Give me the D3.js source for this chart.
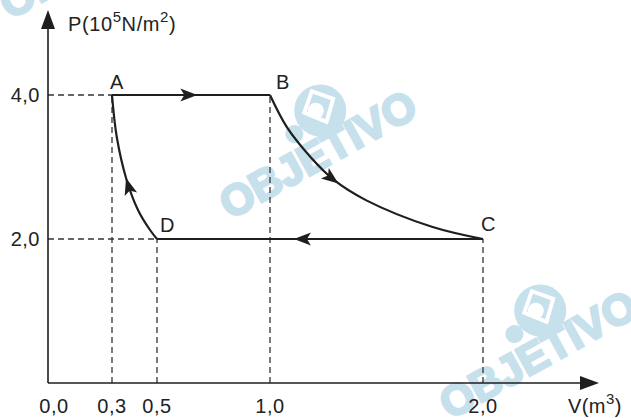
<!DOCTYPE html>
<html>
<head>
<meta charset="utf-8">
<script src="https://cdn.jsdelivr.net/npm/d3@7"></script>
<style>
  body { margin: 0; background: #fff; }
  svg { display: block; }
  text { font-family: "Liberation Sans", Arial, sans-serif; fill: #222; }
</style>
</head>
<body>
<svg id="chart"></svg>
<script>
// states of the cycle (V in m3, P in 10^5 N/m2)
const states = [
  { name: "A", v: 0.3, p: 4.0 },
  { name: "B", v: 1.0, p: 4.0 },
  { name: "C", v: 2.0, p: 2.0 },
  { name: "D", v: 0.5, p: 2.0 }
];
// points read along the curved parts
const curveBC = [[1.0, 4.0], [1.08, 3.55], [1.19, 3.14], [1.30, 2.82], [1.45, 2.54], [1.76, 2.17], [2.0, 2.0]];
const curveDA = [[0.5, 2.0], [0.469, 2.125], [0.416, 2.40], [0.365, 2.82], [0.321, 3.42], [0.3, 4.0]];
const xTicks = [0, 0.3, 0.5, 1.0, 2.0];
const xTickLabels = ["0,0", "0,3", "0,5", "1,0", "2,0"];
const yTicks = [2.0, 4.0];
const yTickLabels = ["2,0", "4,0"];

const width = 631, height = 418;
const svg = d3.select("#chart").attr("width", width).attr("height", height);

// the drawing is not to scale on V, so use a piecewise scale
const x = d3.scaleLinear().domain(xTicks).range([48, 112, 157, 270, 483]);
const y = d3.scaleLinear().domain([0, 4]).range([383, 95]);

const ink = "#1e1e1e";
const wm = "#c6e0ec";
const fs = 20;

// watermark copies
[[-220, -200], [0, 0], [220, 200]].forEach(function(o){
  const g = svg.append("g")
    .attr("transform", "translate(" + (230 + o[0]) + "," + (220 + o[1]) + ") rotate(-29)");
  g.append("text")
    .text("OBJETIVO")
    .attr("font-size", 43)
    .attr("font-weight", "bold")
    .style("fill", wm)
    .attr("stroke", wm)
    .attr("stroke-width", 2.5);
  const logo = g.append("g").attr("transform", "translate(132,-52)");
  logo.append("circle").attr("r", 26).attr("fill", wm);
  logo.append("path")
    .attr("d", "M-15,-6 L2,-21 L17,-4 L0,13 Z")
    .attr("fill", "none").attr("stroke", "#fff").attr("stroke-width", 4);
  logo.append("circle").attr("cx", -4).attr("cy", -2).attr("r", 8).attr("fill", "#fff");
  logo.append("circle").attr("cx", -34).attr("cy", 8).attr("r", 9).attr("fill", wm);
});

// dashed guides
const byName = {};
states.forEach(function(s){ byName[s.name] = s; });
const guides = svg.append("g")
  .attr("stroke", "#333").attr("stroke-width", 1.3).attr("stroke-dasharray", "6,4").attr("fill", "none");
states.forEach(function(s){
  guides.append("line").attr("x1", x(s.v)).attr("x2", x(s.v)).attr("y1", y(0)).attr("y2", y(s.p));
});
[byName.A, byName.D].forEach(function(s){
  guides.append("line").attr("x1", x(0)).attr("x2", x(s.v)).attr("y1", y(s.p)).attr("y2", y(s.p));
});

// axes
svg.append("line").attr("x1", x(0)).attr("x2", 585).attr("y1", y(0)).attr("y2", y(0))
  .attr("stroke", ink).attr("stroke-width", 1.6);
svg.append("path").attr("d", "M599," + y(0) + " L580," + (y(0) - 7) + " L580," + (y(0) + 7) + " Z").attr("fill", ink);
svg.append("line").attr("x1", x(0)).attr("x2", x(0)).attr("y1", y(0)).attr("y2", 24)
  .attr("stroke", ink).attr("stroke-width", 1.6);
svg.append("path").attr("d", "M" + x(0) + ",10 L" + (x(0) - 7) + ",29 L" + (x(0) + 7) + ",29 Z").attr("fill", ink);

// tick labels
svg.selectAll(".xt").data(xTicks).enter().append("text")
  .attr("x", function(d){ return d === 0 ? x(d) + 6 : x(d); })
  .attr("y", 413)
  .attr("text-anchor", "middle")
  .attr("font-size", fs)
  .attr("letter-spacing", 0.5)
  .text(function(d, i){ return xTickLabels[i]; });
svg.selectAll(".yt").data(yTicks).enter().append("text")
  .attr("x", 40)
  .attr("y", function(d){ return y(d) + 7; })
  .attr("text-anchor", "end")
  .attr("font-size", fs)
  .attr("letter-spacing", 0.5)
  .text(function(d, i){ return yTickLabels[i]; });

// axis titles
const pt = svg.append("text").attr("x", 68).attr("y", 31).attr("font-size", fs).attr("letter-spacing", 0.6);
pt.append("tspan").text("P(10");
pt.append("tspan").attr("dy", -9).attr("font-size", 15).text("5");
pt.append("tspan").attr("dy", 9).text("N/m");
pt.append("tspan").attr("dy", -9).attr("font-size", 15).text("2");
pt.append("tspan").attr("dy", 9).text(")");
const vt = svg.append("text").attr("x", 568).attr("y", 413).attr("font-size", fs).attr("letter-spacing", 0.4);
vt.append("tspan").text("V(m");
vt.append("tspan").attr("dy", -9).attr("font-size", 15).text("3");
vt.append("tspan").attr("dy", 9).text(")");

// cycle
const line = d3.line().x(function(d){ return x(d[0]); }).y(function(d){ return y(d[1]); });
const segs = [
  { pts: [[byName.A.v, byName.A.p], [byName.B.v, byName.B.p]], curve: d3.curveLinear, at: 0.54 },
  { pts: curveBC, curve: d3.curveCatmullRom.alpha(0.5), at: 0.42 },
  { pts: [[byName.C.v, byName.C.p], [byName.D.v, byName.D.p]], curve: d3.curveLinear, at: 0.58 },
  { pts: curveDA, curve: d3.curveCatmullRom.alpha(0.5), at: 0.45 }
];
segs.forEach(function(s){
  const path = svg.append("path")
    .attr("d", line.curve(s.curve)(s.pts))
    .attr("fill", "none").attr("stroke", ink).attr("stroke-width", 2.2);
  const node = path.node();
  const len = node.getTotalLength();
  const p1 = node.getPointAtLength(len * s.at);
  const p0 = node.getPointAtLength(len * s.at - 3);
  const ang = Math.atan2(p1.y - p0.y, p1.x - p0.x) * 180 / Math.PI;
  svg.append("path")
    .attr("d", "M0,0 L-17,-6.5 L-13,0 L-17,6.5 Z")
    .attr("transform", "translate(" + p1.x + "," + p1.y + ") rotate(" + ang + ")")
    .attr("fill", ink);
});

// state labels
const labelOffset = { A: [-2, -6], B: [6, -6], C: [-2, -8], D: [3, -7] };
svg.selectAll(".st").data(states).enter().append("text")
  .attr("x", function(d){ return x(d.v) + labelOffset[d.name][0]; })
  .attr("y", function(d){ return y(d.p) + labelOffset[d.name][1]; })
  .attr("font-size", fs)
  .text(function(d){ return d.name; });
</script>
</body>
</html>
